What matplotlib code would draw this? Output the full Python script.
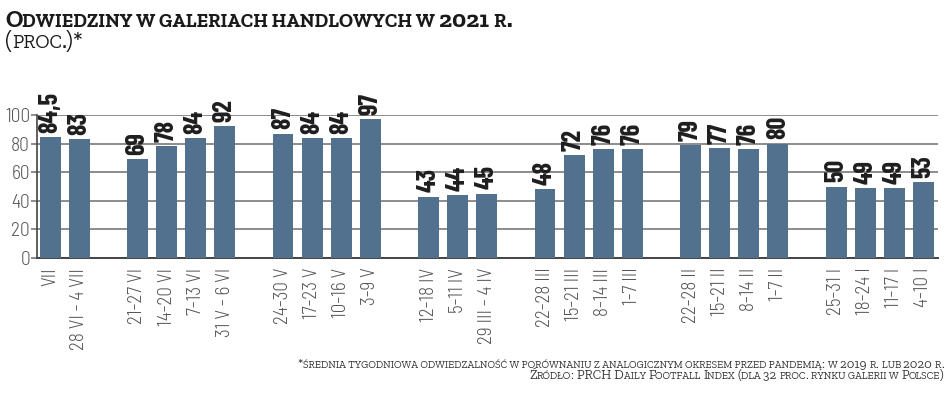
import matplotlib
matplotlib.use("Agg")
import matplotlib.pyplot as plt
from matplotlib import font_manager as fm

labels = ["VII", "28 VI - 4 VII", "21-27 VI", "14-20 VI", "7-13 VI", "31 V - 6 VI",
          "24-30 V", "17-23 V", "10-16 V", "3-9 V", "12-18 IV", "5-11 IV",
          "29 III - 4 IV", "22-28 III", "15-21 III", "8-14 III", "1-7 III",
          "22-28 II", "15-21 II", "8-14 II", "1-7 II", "25-31 I", "18-24 I",
          "11-17 I", "4-10 I"]
values = [84.5, 83, 69, 78, 84, 92, 87, 84, 84, 97, 43, 44, 45, 48, 72, 76, 76,
          79, 77, 76, 80, 50, 49, 49, 53]
group_sizes = [2, 4, 4, 3, 4, 4, 4]
yticks = [0, 20, 40, 60, 80, 100]

title1 = "Odwiedziny w galeriach handlowych w 2021 r."
title2 = "(proc.)*"
note1 = "*średnia tygodniowa odwiedzalność w porównaniu z analogicznym okresem przed pandemią: w 2019 r. lub 2020 r."
note2 = "Źródło: PRCH Daily Footfall Index (dla 32 proc. rynku galerii w Polsce)"

names = {f.name for f in fm.fontManager.ttflist}


def pick(cands, default):
    for c in cands:
        if c in names:
            return c
    return default


tickfont = pick(["Barlow Semi Condensed", "Barlow Condensed", "Asap Condensed"], "DejaVu Sans")
valfont = pick(["Barlow Condensed", "Barlow Semi Condensed", "Asap Condensed"], "DejaVu Sans")
serif = pick(["Zilla Slab", "Bitter", "Roboto Slab", "Arvo", "Noto Serif"], "DejaVu Serif")

W, H = 948, 400
fig = plt.figure(figsize=(W / 100, H / 100), dpi=100)
ax = fig.add_axes([37 / W, 1 - 258 / H, (938 - 37) / W, (258 - 115) / H])

pos = []
p = 0
for g in group_sizes:
    for _ in range(g):
        pos.append(p)
        p += 1
    p += 1

bar_color = "#52718f"
grid_color = "#6e6e6e"
ax.bar(pos, values, width=0.72, color=bar_color, zorder=3)
ax.set_xlim(-0.45, 30.5)
ax.set_ylim(0, 100)
ax.set_yticks(yticks)
ax.set_yticklabels([str(v) for v in yticks], family=tickfont, fontweight=300,
                   fontsize=14, color="#555555")
ax.grid(axis="y", color=grid_color, linewidth=1.1, zorder=0)
ax.set_axisbelow(True)
ax.tick_params(axis="y", length=4, width=1.1, color=grid_color, pad=1)
ax.set_xticks(pos)
ax.set_xticklabels(labels, rotation=90, family=tickfont, fontweight=300, fontsize=13.8,
                   color="#555555", ha="center", va="top")
ax.tick_params(axis="x", length=0, pad=7)
for s in ["top", "right"]:
    ax.spines[s].set_visible(False)
ax.spines["left"].set_color("#444444")
ax.spines["bottom"].set_color("#444444")
ax.spines["left"].set_linewidth(1.2)
ax.spines["bottom"].set_linewidth(1.4)

for x, v in zip(pos, values):
    txt = (f"{v:.1f}".replace(".", ",")) if v != int(v) else str(int(v))
    ax.annotate(txt, (x, v), xytext=(0, 3), textcoords="offset points",
                rotation=90, ha="center", va="bottom", family=valfont,
                fontweight="bold", fontsize=18.8, color="#1e1e1e", annotation_clip=False)

renderer = fig.canvas.get_renderer()


def text_width(txt, fs, **kw):
    t1 = fig.text(0, 0, "|" + txt + "|", fontsize=fs, **kw)
    w1 = t1.get_window_extent(renderer).width
    t1.remove()
    t2 = fig.text(0, 0, "||", fontsize=fs, **kw)
    w2 = t2.get_window_extent(renderer).width
    t2.remove()
    return w1 - w2


def smallcaps(xpx, ypx, s, size, ratio=0.78, ha="left", **kw):
    runs = []
    for ch in s:
        if ch.islower():
            key, c = "small", ch.upper()
        elif ch == " ":
            key, c = (runs[-1][0] if runs else "big"), " "
        else:
            key, c = "big", ch
        if runs and runs[-1][0] == key:
            runs[-1][1] += c
        else:
            runs.append([key, c])
    widths = []
    for key, c in runs:
        fs = size * ratio if key == "small" else size
        widths.append(text_width(c, fs, **kw))
    total = sum(widths)
    x0 = xpx - total if ha == "right" else xpx
    for (key, c), w in zip(runs, widths):
        fs = size * ratio if key == "small" else size
        fig.text(x0 / W, 1 - ypx / H, c, fontsize=fs, va="baseline", ha="left", **kw)
        x0 += w


smallcaps(5, 27, title1, 17.5, ratio=0.8, family=serif, fontweight="bold", color="#1a1a1a")
smallcaps(5, 48, title2, 17.5, ratio=0.8, family=serif, color="#1a1a1a")
smallcaps(944, 368, note1, 9.6, ha="right", family=serif, color="#333333")
smallcaps(944, 379, note2, 9.6, ha="right", family=serif, color="#333333")

fig.savefig("out.png", dpi=100)
